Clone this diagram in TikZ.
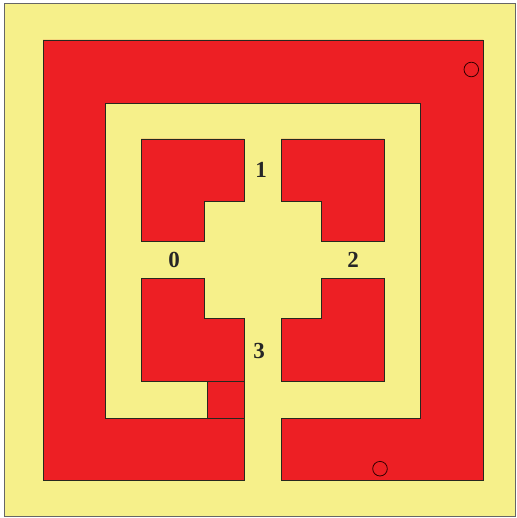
\documentclass[tikz,border=0pt]{standalone}
\usepackage{fontspec}
\setmainfont{Liberation Serif}
\definecolor{bgyellow}{RGB}{246,240,138}
\definecolor{pred}{RGB}{237,31,36}
\definecolor{edge}{RGB}{40,40,30}
\tikzset{
  patch/.style={fill=pred, draw=edge, line width=0.9pt, line join=miter},
  lbl/.style={font=\fontsize{23}{23}\selectfont\bfseries, text=black!85, inner sep=0pt},
  via/.style={draw=black!80!red, line width=0.8pt}
}
\begin{document}
\begin{tikzpicture}[x=1pt,y=-1pt]
\useasboundingbox (0,0) rectangle (516,518);
% substrate
\draw[fill=bgyellow, draw=black!60, line width=1pt] (4.5,3.5) rectangle (515.5,516.5);
% outer ring
\draw[patch] (244,418) -- (105,418) -- (105,103) -- (420,103) -- (420,418) -- (281,418)
  -- (281,480) -- (483,480) -- (483,40) -- (43,40) -- (43,480) -- (244,480) -- cycle;
% small square
\draw[patch] (207,381) rectangle (244,418);
% inner L blocks
\draw[patch] (141,139) -- (244,139) -- (244,201) -- (204,201) -- (204,241) -- (141,241) -- cycle;
\draw[patch] (281,139) -- (384,139) -- (384,241) -- (321,241) -- (321,201) -- (281,201) -- cycle;
\draw[patch] (141,278) -- (204,278) -- (204,318) -- (244,318) -- (244,381) -- (141,381) -- cycle;
\draw[patch] (321,278) -- (384,278) -- (384,381) -- (281,381) -- (281,318) -- (321,318) -- cycle;
% vias
\draw[via] (471.3,69.5) circle (7.3);
\draw[via] (380,468.7) circle (7.3);
% labels
\node[lbl] (p1) at (261,170) {1};
\node[lbl] (p0) at (174,259.5) {0};
\node[lbl] (p2) at (353,259.5) {2};
\node[lbl] (p3) at (259,351) {3};
\end{tikzpicture}
\end{document}
